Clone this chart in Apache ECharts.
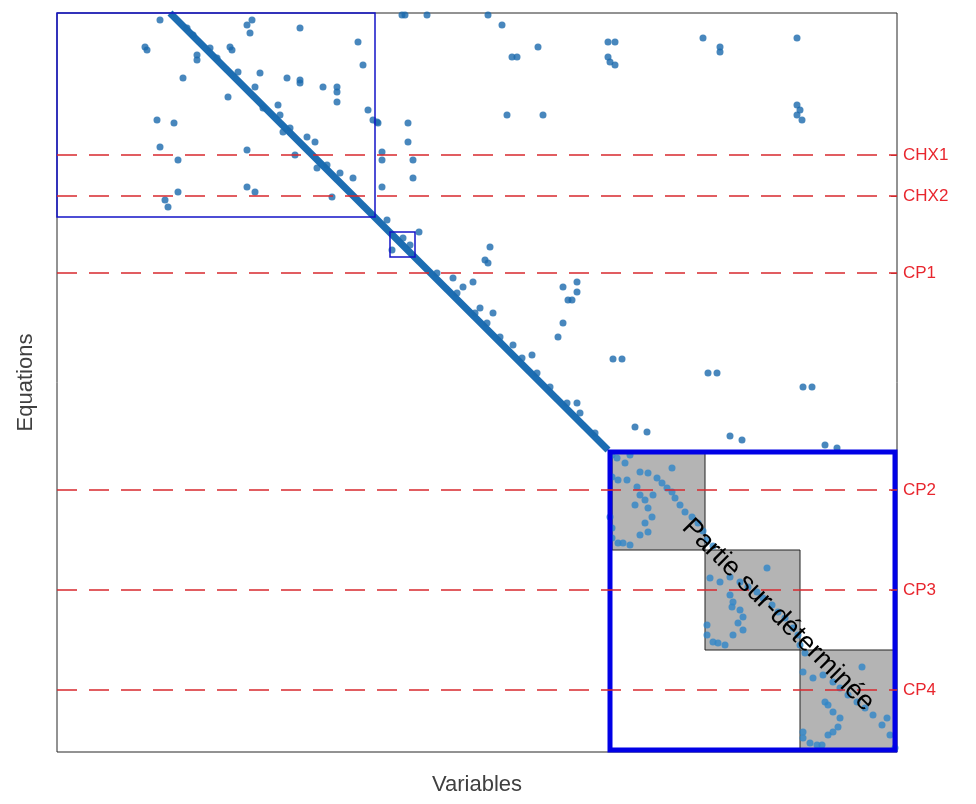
<!DOCTYPE html>
<html><head><meta charset="utf-8">
<script src="https://cdn.jsdelivr.net/npm/echarts@6/dist/echarts.min.js"></script>
<style>html,body{margin:0;padding:0;background:#fff}#c{width:976px;height:804px}</style>
</head><body><div id="c"></div>
<script>
// Matrix size (columns = variables, rows = equations)
const nCols = 840, nRows = 739;

// Main diagonal (start / end of the dense structural diagonal)
const diagonal = [[113, 0], [551, 437]];

// Off-diagonal non-zeros in the upper part [col,row]
const upperPoints = [
 [103,7],[190,12],[195,7],[193,20],[243,15],[88,34],[90,37],[140,42],[140,47],[173,34],[175,37],
 [203,60],[230,65],[243,67],[243,70],[301,29],[306,52],[126,65],[171,84],[198,74],[266,74],
 [280,74],[280,79],[280,89],[221,92],[100,107],[117,110],[311,97],[316,107],[321,110],[103,134],
 [121,147],[190,137],[238,142],[190,174],[198,179],[121,179],[108,187],[111,194],[275,184],
 [325,139],[325,147],[325,174],[345,2],[348,2],[370,2],[431,2],[445,12],[455,44],[460,44],
 [481,34],[551,29],[558,29],[551,44],[553,49],[558,52],[646,25],[663,34],[663,39],[740,25],
 [740,92],[743,97],[740,102],[745,107],[450,102],[486,102],[351,110],[351,129],[356,147],
 [356,165],[320,109],[362,219],[335,237],[433,234],[428,247],[431,250],[396,265],[406,274],
 [416,269],[506,274],[520,269],[520,279],[511,287],[515,287],[506,310],[501,324],[556,346],
 [565,346],[423,295],[436,300],[475,342],[456,332],[520,390],[578,414],[651,360],[660,360],
 [746,374],[755,374],[590,419],[673,423],[685,427],[768,432],[780,435]
];

// Non-zeros hugging the diagonal [col,row]
const nearDiagonal = [
 [130,15],[136,22],[153,35],[160,45],[181,59],[206,95],[223,102],[226,119],[233,115],[250,124],
 [258,129],[260,155],[270,152],[283,160],[296,165],[330,207],[380,260],[443,324],[493,374],[523,400],
 [346,225],[353,232],[400,280],[418,300],[430,310],[465,345],[480,360],[510,390],[538,420]
];

// Non-zeros of the over-determined block [col,row]
const blockPoints = [
 [555,442],[560,445],[568,450],[573,442],[555,464],[561,467],[570,467],[583,459],[591,460],[600,465],
 [605,470],[610,475],[615,479],[618,485],[623,492],[628,499],[635,504],[641,510],[615,455],[580,474],
 [583,482],[588,487],[578,492],[591,495],[595,504],[588,510],[591,519],[583,522],[596,482],[555,515],
 [555,525],[561,530],[566,530],[573,532],[553,504],[646,518],[650,527],[656,533],
 [710,555],[653,565],[663,569],[673,564],[683,569],[691,574],[700,579],[706,585],[715,592],[721,599],
 [728,605],[736,615],[743,632],[673,582],[676,589],[675,594],[683,597],[686,604],[681,610],[686,617],
 [676,622],[650,612],[650,622],[656,629],[661,630],[668,632],[741,622],[748,640],
 [805,654],[746,659],[756,665],[766,662],[776,669],[783,675],[791,682],[800,689],[808,695],[816,702],
 [825,712],[833,722],[768,689],[771,692],[776,699],[783,705],[781,714],[776,719],[771,722],[746,719],
 [746,725],[753,730],[760,732],[765,732],[830,705],[838,735]
];

// Sub-system separators (row index) and their names
const levelRows = [142, 183, 260, 477, 577, 677];
const levelNames = ['CHX1', 'CHX2', 'CP1', 'CP2', 'CP3', 'CP4'];

// Highlight rectangles [col0,row0,col1,row1]
const thinFrames = [[0, 0, 318, 204], [333, 219, 358, 244]];
const thickFrame = [[553, 439, 838, 737]];
const grayBlocks = [[555, 439, 648, 537], [648, 537, 743, 637], [743, 637, 838, 737]];
const blockLabel = [[721, 602, 'Partie sur-déterminée']];

function rectSeries(name, rects, style, z) {
  return {
    type: 'custom', name, coordinateSystem: 'cartesian2d', z, silent: true, clip: false,
    data: rects,
    renderItem: (params, api) => {
      const p0 = api.coord([api.value(0), api.value(1)]);
      const p1 = api.coord([api.value(2), api.value(3)]);
      return { type: 'rect', shape: { x: Math.min(p0[0], p1[0]), y: Math.min(p0[1], p1[1]),
        width: Math.abs(p1[0] - p0[0]), height: Math.abs(p1[1] - p0[1]) }, style };
    }
  };
}

const font = 'Liberation Sans, Arial, sans-serif';
const chart = echarts.init(document.getElementById('c'), null, { renderer: 'canvas' });
chart.setOption({
  animation: false,
  backgroundColor: '#ffffff',
  grid: { left: 57, top: 13, width: 840, height: 739, show: true, borderColor: '#262626', borderWidth: 1, backgroundColor: '#fff' },
  xAxis: {
    type: 'value', min: 0, max: nCols, name: 'Variables', nameLocation: 'middle', nameGap: 22,
    nameTextStyle: { fontSize: 22, color: '#404040', fontFamily: font, verticalAlign: 'top' },
    axisLine: { show: false }, axisTick: { show: false }, axisLabel: { show: false }, splitLine: { show: false }
  },
  yAxis: [
    {
      type: 'value', min: 0, max: nRows, inverse: true, name: 'Equations', nameLocation: 'middle', nameGap: 20,
      nameTextStyle: { fontSize: 22, color: '#404040', fontFamily: font },
      axisLine: { show: false }, axisTick: { show: false }, axisLabel: { show: false }, splitLine: { show: false }
    },
    {
      type: 'value', min: 0, max: nRows, inverse: true, position: 'right',
      axisLine: { show: false }, splitLine: { show: false },
      axisTick: { show: true, inside: true, length: 6, customValues: levelRows, lineStyle: { color: '#b03030', width: 1 } },
      axisLabel: { show: true, inside: false, margin: 6, customValues: levelRows,
        formatter: v => levelNames[levelRows.indexOf(v)], color: '#e8262e', fontSize: 17, fontFamily: font }
    }
  ],
  series: [
    rectSeries('blocks', grayBlocks, { fill: '#b4b4b4', stroke: '#222', lineWidth: 1 }, 1),
    {
      type: 'line', name: 'diagonal', data: diagonal, symbol: 'none', z: 2, silent: true,
      lineStyle: { color: '#1c6db2', width: 7, cap: 'butt' }
    },
    {
      type: 'scatter', name: 'upper', data: upperPoints.concat(nearDiagonal), symbolSize: 7, z: 2, silent: true,
      itemStyle: { color: '#1a69ad' }
    },
    {
      type: 'scatter', name: 'block', data: blockPoints, symbolSize: 7, z: 3, silent: true,
      itemStyle: { color: '#2f86c8', opacity: 0.8 },
      markLine: {
        silent: true, symbol: ['none', 'none'], label: { show: false },
        lineStyle: { color: '#d8282e', width: 1.6, type: [20, 12] },
        data: levelRows.map(r => ({ yAxis: r }))
      }
    },
    rectSeries('frames', thinFrames, { fill: 'none', stroke: '#1414c8', lineWidth: 1.5 }, 4),
    rectSeries('overdetermined', thickFrame, { fill: 'none', stroke: '#0000e6', lineWidth: 5 }, 4),
    {
      type: 'custom', name: 'label', coordinateSystem: 'cartesian2d', z: 5, silent: true, data: blockLabel,
      renderItem: (params, api) => {
        const p = api.coord([api.value(0), api.value(1)]);
        return { type: 'text', x: p[0], y: p[1], rotation: -Math.PI / 4,
          style: { text: blockLabel[params.dataIndex][2], fontSize: 27, fill: '#000', fontFamily: font,
            align: 'center', verticalAlign: 'middle' } };
      }
    }
  ]
});
</script></body></html>
